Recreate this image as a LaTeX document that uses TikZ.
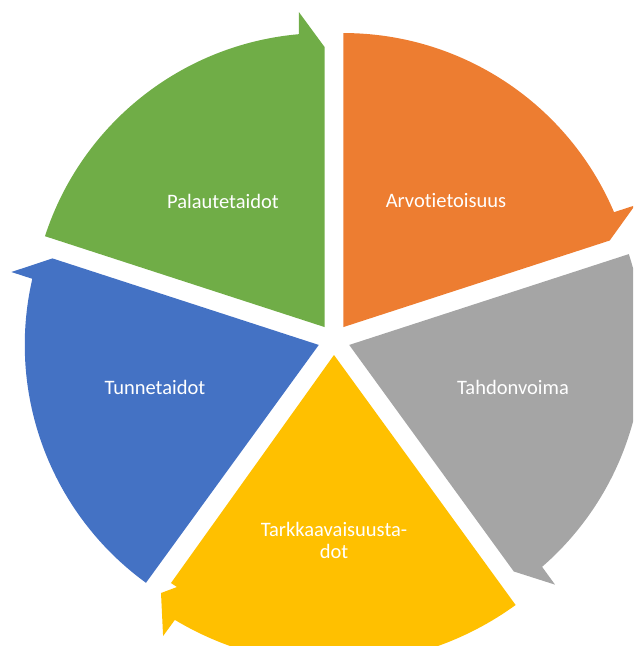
\documentclass[tikz,border=0pt]{standalone}
\usepackage{fontspec}
\setmainfont{Carlito}[Ligatures=NoCommon]
\usetikzlibrary{calc}
\definecolor{sgreen}{HTML}{70AD47}
\definecolor{sorange}{HTML}{ED7D31}
\definecolor{sgray}{HTML}{A5A5A5}
\definecolor{syellow}{HTML}{FFC000}
\definecolor{sblue}{HTML}{4472C4}
\tikzset{
  lbl/.style={text=white, font=\fontsize{20.5}{22}\selectfont, align=center, inner sep=0pt}
}
\begin{document}
\begin{tikzpicture}[x=1pt,y=1pt]
\useasboundingbox (-334,-306) rectangle (299,340);
\clip (-334,-306) rectangle (299,340);
\foreach \b/\col in {126/sgreen,54/sorange,-18/sgray,-162/sblue}{
  \pgfmathsetmacro{\ea}{\b+36}
  \pgfmathsetmacro{\eb}{\b-36}
  \pgfmathsetmacro{\ec}{\b-31}
  \fill[\col] (\b:16) -- ++(\ea:294) arc[start angle=\ea, end angle=\ec, radius=294]
     -- ++(\eb:22) -- ($(\b:16)+(\eb:280)$) -- cycle;
}
% yellow segment (slightly larger)
\coordinate (ya) at (-90:15);
\fill[syellow] (ya) -- ++(-54:309) arc[start angle=-54, end angle=-121, radius=309]
   -- ++(-126:20) -- (-173,-253) -- (-157,-247) -- (-163,-243) -- cycle;
\node[lbl] (t1) at (-111,139) {Palautetaidot};
\node[lbl] (t2) at (112,139) {Arvotietoisuus};
\node[lbl] (t3) at (179,-47) {Tahdonvoima};
\node[lbl] (t4) at (-179,-47) {Tunnetaidot};
\node[lbl] (t5) at (0,-200) {Tarkkaavaisuusta-\\dot};
\end{tikzpicture}
\end{document}
